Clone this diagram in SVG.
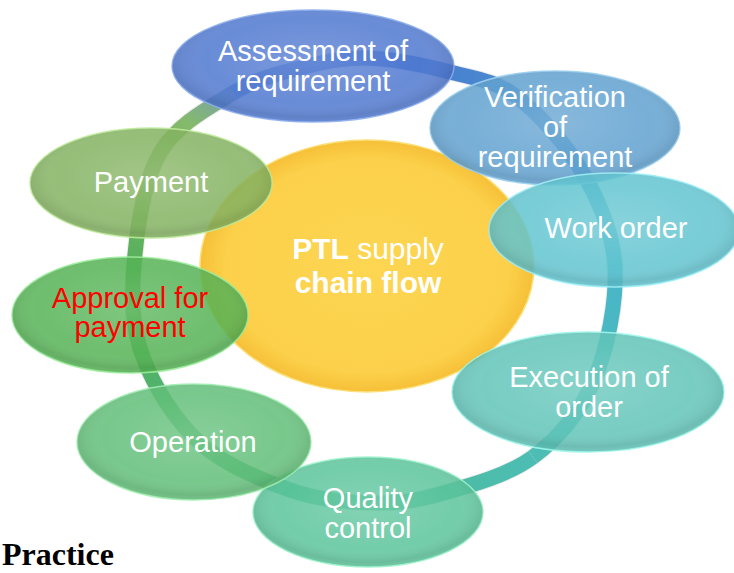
<svg xmlns="http://www.w3.org/2000/svg" width="734" height="573" viewBox="0 0 734 573">
<style>
.lbl{font-family:"Liberation Sans",Arial,sans-serif;font-size:29px;fill:#ffffff;text-anchor:middle}
.red{fill:#ff0000}
.ctr{font-family:"Liberation Sans",Arial,sans-serif;font-size:30px;fill:#ffffff;text-anchor:middle}
.b{font-weight:bold}
.node{fill-opacity:0.85;stroke-width:1.5;stroke-opacity:0.9}
.shade{fill:url(#shade)}
.ring{fill:none;stroke-width:15;stroke-linecap:butt}
</style>
<defs>
<radialGradient id="shade" cx="0.5" cy="0.45" r="0.55">
<stop offset="0" stop-color="#ffffff" stop-opacity="0.12"/>
<stop offset="0.7" stop-color="#ffffff" stop-opacity="0"/>
<stop offset="0.92" stop-color="#000000" stop-opacity="0.08"/>
<stop offset="1" stop-color="#000000" stop-opacity="0.02"/>
</radialGradient>
<radialGradient id="yel" cx="0.5" cy="0.5" r="0.5">
<stop offset="0" stop-color="#fdd652"/>
<stop offset="0.85" stop-color="#fcd04a"/>
<stop offset="1" stop-color="#f6c038"/>
</radialGradient>
<linearGradient id="g1" gradientUnits="userSpaceOnUse" x1="367" y1="58" x2="517" y2="97"><stop offset="0" stop-color="#4676d6"/><stop offset="1" stop-color="#4a8ccc"/></linearGradient>
<linearGradient id="g2" gradientUnits="userSpaceOnUse" x1="517" y1="97" x2="615" y2="267"><stop offset="0" stop-color="#4a8ccc"/><stop offset="1" stop-color="#48b6c8"/></linearGradient>
<linearGradient id="g3" gradientUnits="userSpaceOnUse" x1="615" y1="267" x2="533" y2="457"><stop offset="0" stop-color="#48b6c8"/><stop offset="1" stop-color="#4dbdb4"/></linearGradient>
<linearGradient id="g4" gradientUnits="userSpaceOnUse" x1="533" y1="457" x2="370" y2="503"><stop offset="0" stop-color="#4dbdb4"/><stop offset="1" stop-color="#4cbb96"/></linearGradient>
<linearGradient id="g5" gradientUnits="userSpaceOnUse" x1="370" y1="503" x2="200" y2="443"><stop offset="0" stop-color="#4cbb96"/><stop offset="1" stop-color="#4cb474"/></linearGradient>
<linearGradient id="g6" gradientUnits="userSpaceOnUse" x1="200" y1="443" x2="134" y2="265"><stop offset="0" stop-color="#4cb474"/><stop offset="1" stop-color="#58b05c"/></linearGradient>
<linearGradient id="g7" gradientUnits="userSpaceOnUse" x1="134" y1="265" x2="233" y2="93"><stop offset="0" stop-color="#58b05c"/><stop offset="0.75" stop-color="#84ba6a"/><stop offset="1" stop-color="#7aa0b0"/></linearGradient>
<linearGradient id="g8" gradientUnits="userSpaceOnUse" x1="233" y1="93" x2="367" y2="58"><stop offset="0" stop-color="#6f92c8"/><stop offset="1" stop-color="#4676d6"/></linearGradient>
</defs>
<rect width="734" height="573" fill="#ffffff"/>

<g id="center">
<ellipse cx="367" cy="266" rx="167" ry="126" fill="url(#yel)" stroke="#fbe07a" stroke-width="1.5"/>
</g>

<g id="connectors">
<path d="M367,58 C392,58.7 425,65.5 450,72 C475,78.5 494.8,80.2 517,97 C539.2,113.8 566.7,144.7 583,173 C599.3,201.3 613.2,232.5 615,267 C616.8,301.5 607.7,348.3 594,380 C580.3,411.7 558.7,438 533,457 C507.3,476 467.2,486.3 440,494 C412.8,501.7 395,503.7 370,503 C345,502.3 318.3,500 290,490 C261.7,480 224.5,465.2 200,443 C175.5,420.8 154,386.7 143,357 C132,327.3 131.2,299 134,265 C136.8,231 143.5,181.7 160,153 C176.5,124.3 209.7,107.2 233,93 C256.3,78.8 277.7,73.8 300,68 C322.3,62.2 342,57.3 367,58 Z" fill="none" stroke="#000000" stroke-opacity="0.08" stroke-width="17"/>
<path class="ring" stroke="url(#g1)" d="M367,58 C392,58.7 425,65.5 450,72 C475,78.5 494.8,80.2 517,97"/>
<path class="ring" stroke="url(#g2)" d="M517,97 C539.2,113.8 566.7,144.7 583,173 C599.3,201.3 613.2,232.5 615,267"/>
<path class="ring" stroke="url(#g3)" d="M615,267 C616.8,301.5 607.7,348.3 594,380 C580.3,411.7 558.7,438 533,457"/>
<path class="ring" stroke="url(#g4)" d="M533,457 C507.3,476 467.2,486.3 440,494 C412.8,501.7 395,503.7 370,503"/>
<path class="ring" stroke="url(#g5)" d="M370,503 C345,502.3 318.3,500 290,490 C261.7,480 224.5,465.2 200,443"/>
<path class="ring" stroke="url(#g6)" d="M200,443 C175.5,420.8 154,386.7 143,357 C132,327.3 131.2,299 134,265"/>
<path class="ring" stroke="url(#g7)" d="M134,265 C136.8,231 143.5,181.7 160,153 C176.5,124.3 209.7,107.2 233,93"/>
<path class="ring" stroke="url(#g8)" d="M233,93 C256.3,78.8 277.7,73.8 300,68 C322.3,62.2 342,57.3 367,58"/>
</g>

<g id="n1">
<ellipse class="node" cx="313" cy="66" rx="141" ry="56" fill="#4f78d0" stroke="#8fb0f0"/>
<ellipse class="shade" cx="313" cy="66" rx="141" ry="56"/>
</g>
<g id="n2">
<ellipse class="node" cx="555" cy="128" rx="125" ry="57" fill="#60a1d0" stroke="#9cd0f0"/>
<ellipse class="shade" cx="555" cy="128" rx="125" ry="57"/>
</g>
<g id="n3">
<ellipse class="node" cx="614" cy="230" rx="125" ry="57" fill="#60c4d0" stroke="#a0f0f8"/>
<ellipse class="shade" cx="614" cy="230" rx="125" ry="57"/>
</g>
<g id="n4">
<ellipse class="node" cx="588" cy="392" rx="136" ry="60" fill="#60c4b9" stroke="#a0f8ec"/>
<ellipse class="shade" cx="588" cy="392" rx="136" ry="60"/>
</g>
<g id="n5">
<ellipse class="node" cx="368" cy="512" rx="115" ry="55" fill="#5ac49b" stroke="#9ef5cc"/>
<ellipse class="shade" cx="368" cy="512" rx="115" ry="55"/>
</g>
<g id="n6">
<ellipse class="node" cx="194" cy="442" rx="117" ry="58" fill="#60be78" stroke="#a4f0b4"/>
<ellipse class="shade" cx="194" cy="442" rx="117" ry="58"/>
</g>
<g id="n7">
<ellipse class="node" cx="130" cy="315" rx="118" ry="58" fill="#55b355" stroke="#9cee9c"/>
<ellipse class="shade" cx="130" cy="315" rx="118" ry="58"/>
</g>
<g id="n8">
<ellipse class="node" cx="151" cy="183" rx="121" ry="55" fill="#84b360" stroke="#c0ec9c"/>
<ellipse class="shade" cx="151" cy="183" rx="121" ry="55"/>
</g>

<g id="labels">
<text class="lbl" x="313" y="61">Assessment of</text>
<text class="lbl" x="313" y="91">requirement</text>
<text class="lbl" x="555" y="107">Verification</text>
<text class="lbl" x="555" y="137">of</text>
<text class="lbl" x="555" y="167">requirement</text>
<text class="lbl" x="616" y="238">Work order</text>
<text class="lbl" x="589" y="387">Execution of</text>
<text class="lbl" x="589" y="417">order</text>
<text class="lbl" x="368" y="508">Quality</text>
<text class="lbl" x="368" y="538">control</text>
<text class="lbl" x="193" y="452">Operation</text>
<text class="lbl red" x="130" y="308">Approval for</text>
<text class="lbl red" x="130" y="337">payment</text>
<text class="lbl" x="151" y="192">Payment</text>
<text class="ctr" x="368" y="259"><tspan class="b">PTL</tspan> supply</text>
<text class="ctr b" x="368" y="293">chain flow</text>
</g>

<text x="2" y="565" style="font-family:'Liberation Serif','Times New Roman',serif;font-size:32px;font-weight:bold;fill:#000000">Practice</text>
</svg>
